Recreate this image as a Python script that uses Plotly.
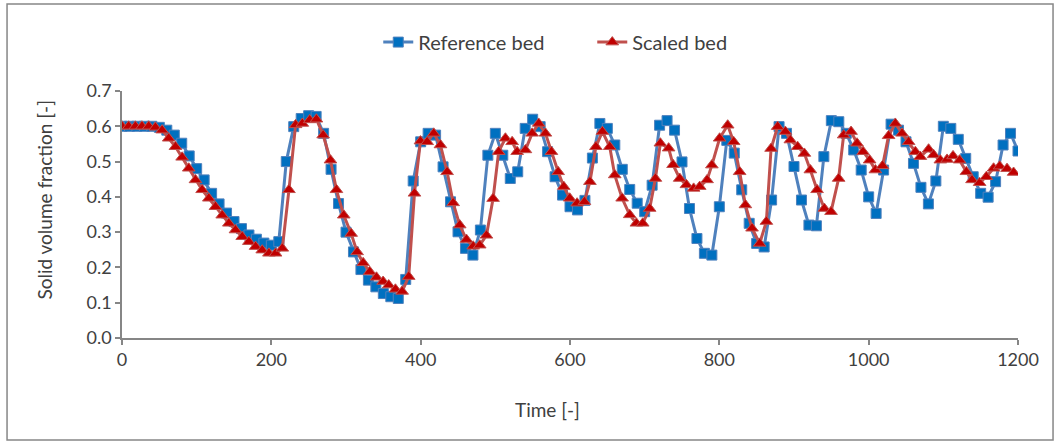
import plotly.graph_objects as go

# Reference bed: sampled every 10 time units
ref_time = list(range(0, 1201, 10))
ref_frac = [
    0.600, 0.600, 0.600, 0.600, 0.600, 0.597, 0.589, 0.575, 0.552, 0.516,
    0.480, 0.448, 0.410, 0.380, 0.354, 0.330, 0.310, 0.292, 0.280, 0.269,
    0.263, 0.273, 0.500, 0.599, 0.622, 0.630, 0.628, 0.580, 0.478, 0.381,
    0.300, 0.244, 0.194, 0.164, 0.145, 0.126, 0.117, 0.112, 0.166, 0.445,
    0.556, 0.580, 0.575, 0.485, 0.386, 0.301, 0.254, 0.235, 0.306, 0.518,
    0.580, 0.518, 0.452, 0.471, 0.594, 0.620, 0.599, 0.528, 0.457, 0.405,
    0.372, 0.363, 0.390, 0.510, 0.608, 0.594, 0.547, 0.478, 0.421, 0.382,
    0.358, 0.433, 0.603, 0.616, 0.589, 0.499, 0.367, 0.282, 0.240, 0.235,
    0.372, 0.560, 0.524, 0.420, 0.325, 0.268, 0.258, 0.391, 0.599, 0.580,
    0.486, 0.391, 0.320, 0.318, 0.514, 0.616, 0.613, 0.580, 0.533, 0.476,
    0.400, 0.353, 0.476, 0.606, 0.589, 0.556, 0.495, 0.427, 0.380, 0.445,
    0.600, 0.594, 0.563, 0.509, 0.457, 0.410, 0.399, 0.443, 0.547, 0.580,
    0.530,
]

# Scaled bed: its own (denser) time sampling
scaled_time = [
    0, 8.9, 17.9, 26.8, 35.8, 44.7, 53.7, 62.6, 71.6, 80.5,
    89.4, 98.4, 107.3, 116.3, 125.2, 134.2, 143.1, 152.0, 161.0, 169.9,
    178.9, 187.8, 196.8, 205.7, 214.7, 223.6, 232.5, 241.5, 251.4, 260.4,
    269.4, 279.2, 287.2, 297.0, 306.9, 314.9, 323.0, 331.8, 340.8, 349.7,
    357.2, 366.2, 375.2, 384.0, 391.7, 399.7, 408.7, 417.5, 426.5, 435.4,
    443.5, 452.3, 461.3, 470.3, 479.1, 488.1, 497.0, 504.5, 513.5, 522.5,
    529.2, 540.3, 549.3, 558.1, 567.1, 575.1, 584.1, 591.6, 599.6, 609.5,
    619.3, 626.7, 634.7, 643.4, 653.2, 659.9, 669.8, 680.0, 688.9, 697.4,
    706.7, 714.4, 721.0, 732.1, 738.0, 746.9, 755.9, 765.6, 773.7, 783.6,
    790.0, 800.4, 811.2, 819.2, 827.2, 834.9, 843.8, 854.0, 863.0, 869.3,
    878.1, 888.4, 895.1, 904.9, 913.9, 921.9, 930.9, 940.6, 949.6, 959.8,
    966.5, 976.4, 984.4, 992.5, 1001.3, 1009.0, 1018.6, 1026.7, 1035.7, 1044.7,
    1053.5, 1062.5, 1069.2, 1080.3, 1087.0, 1096.0, 1105.0, 1113.0, 1121.8, 1130.8,
    1138.4, 1148.6, 1157.6, 1167.3, 1175.4, 1185.3, 1194.1,
]
scaled_frac = [
    0.600, 0.600, 0.600, 0.600, 0.600, 0.597, 0.589, 0.566, 0.542, 0.512,
    0.481, 0.448, 0.420, 0.396, 0.372, 0.348, 0.325, 0.306, 0.287, 0.273,
    0.259, 0.249, 0.240, 0.240, 0.254, 0.420, 0.604, 0.608, 0.618, 0.620,
    0.575, 0.504, 0.420, 0.348, 0.296, 0.244, 0.213, 0.188, 0.172, 0.160,
    0.150, 0.138, 0.132, 0.174, 0.410, 0.558, 0.556, 0.580, 0.547, 0.471,
    0.383, 0.320, 0.279, 0.260, 0.263, 0.291, 0.395, 0.528, 0.566, 0.556,
    0.528, 0.533, 0.580, 0.608, 0.580, 0.528, 0.471, 0.429, 0.396, 0.382,
    0.386, 0.443, 0.542, 0.585, 0.542, 0.462, 0.396, 0.349, 0.325, 0.325,
    0.367, 0.452, 0.552, 0.538, 0.491, 0.452, 0.434, 0.424, 0.429, 0.448,
    0.490, 0.566, 0.603, 0.556, 0.471, 0.377, 0.311, 0.268, 0.330, 0.537,
    0.599, 0.585, 0.561, 0.542, 0.523, 0.476, 0.420, 0.367, 0.358, 0.452,
    0.575, 0.585, 0.552, 0.528, 0.504, 0.476, 0.488, 0.573, 0.608, 0.580,
    0.556, 0.528, 0.514, 0.535, 0.519, 0.504, 0.506, 0.516, 0.504, 0.471,
    0.448, 0.440, 0.457, 0.481, 0.487, 0.480, 0.469,
]

FONT = "Lato"
TXT = "#404040"
AX = "#868686"

fig = go.Figure()
fig.add_trace(go.Scatter(
    x=ref_time, y=ref_frac, name="Reference bed", mode="lines+markers",
    line=dict(color="#4F81BD", width=3),
    marker=dict(symbol="square", size=10, color="#0070C0",
                line=dict(color="#4F81BD", width=1)),
))
fig.add_trace(go.Scatter(
    x=scaled_time, y=scaled_frac, name="Scaled bed", mode="lines+markers",
    line=dict(color="#C0504D", width=3),
    marker=dict(symbol="triangle-up", size=11, color="#C00000",
                line=dict(color="#C0504D", width=1)),
))

fig.update_layout(
    width=1061, height=444,
    margin=dict(l=122, r=43, t=91, b=106),
    paper_bgcolor="white", plot_bgcolor="white",
    font=dict(family=FONT, size=18, color=TXT),
    showlegend=True,
    legend=dict(orientation="h", x=0.286, xanchor="left", y=1.198, yanchor="middle",
                font=dict(size=20, color=TXT), entrywidth=169, entrywidthmode="pixels",
                tracegroupgap=0),
    xaxis=dict(range=[0, 1200], dtick=200, tick0=0, showgrid=False, zeroline=False,
               showline=True, linecolor=AX, linewidth=1.5,
               ticks="outside", ticklen=5, tickcolor=AX, tickwidth=1.5,
               tickfont=dict(size=18, color=TXT)),
    yaxis=dict(range=[0, 0.7], dtick=0.1, tick0=0, tickformat=".1f",
               showgrid=False, zeroline=False,
               showline=True, linecolor=AX, linewidth=1.5,
               ticks="outside", ticklen=5, tickcolor=AX, tickwidth=1.5,
               tickfont=dict(size=18, color=TXT)),
    shapes=[dict(type="rect", xref="paper", yref="paper",
                 x0=-0.1283, x1=1.0391, y0=-0.413, y1=1.352,
                 line=dict(color="#878787", width=1.5), fillcolor="rgba(0,0,0,0)")],
    annotations=[
        dict(text="Time [-]", xref="paper", yref="paper", x=0.475, y=-0.291,
             xanchor="center", yanchor="middle",
             showarrow=False, font=dict(size=19, color=TXT)),
        dict(text="Solid volume fraction [-]", xref="paper", yref="paper",
             x=-0.086, y=0.56, xanchor="center", yanchor="middle", textangle=-90,
             showarrow=False, font=dict(size=19, color=TXT)),
    ],
)

# drop the default page margin so the figure sits at the window origin
fig.write_html("out.html", config={"displayModeBar": False},
               post_script="document.body.style.margin='0';")
